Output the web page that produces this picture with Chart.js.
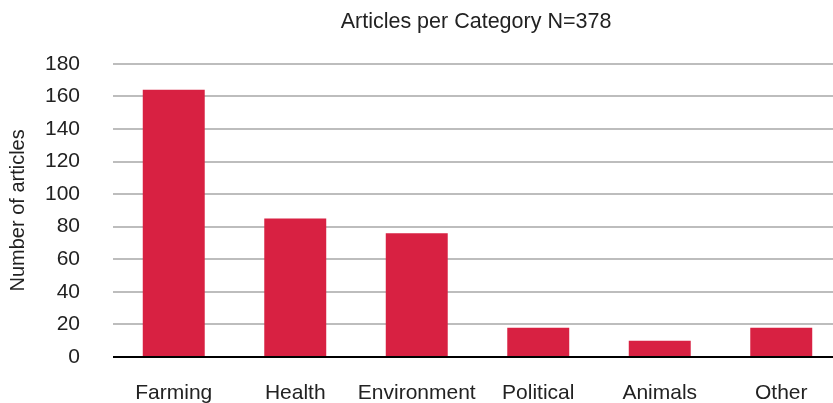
<!DOCTYPE html>
<html>
<head>
<meta charset="utf-8">
<script src="https://cdn.jsdelivr.net/npm/chart.js@4/dist/chart.umd.min.js"></script>
<style>
  html, body { margin: 0; padding: 0; background: #fff; overflow: hidden; }
  #wrap { width: 952px; height: 403px; }
</style>
</head>
<body>
<div id="wrap"><canvas id="articles"></canvas></div>
<script>
const categories = ['Farming', 'Health', 'Environment', 'Political', 'Animals', 'Other']
const articleCounts = [164, 85, 76, 18, 10, 18]
const yTicks = [0, 20, 40, 60, 80, 100, 120, 140, 160, 180]

const font = 'Liberation Sans, Arial, Helvetica, sans-serif'

new Chart(document.getElementById('articles'), {
  type: 'bar',
  data: {
    labels: categories,
    datasets: [{
      data: articleCounts,
      backgroundColor: '#D82142',
      barPercentage: 0.51,
      categoryPercentage: 1
    }]
  },
  options: {
    responsive: true,
    maintainAspectRatio: false,
    animation: false,
    layout: { padding: 0 },
    plugins: {
      legend: { display: false },
      tooltip: { enabled: false },
      title: {
        display: true,
        text: 'Articles per Category N=378',
        color: '#222',
        font: { family: font, size: 21.5, weight: 'normal' },
        padding: { top: 9, bottom: 29 }
      }
    },
    scales: {
      x: {
        grid: { display: false, drawTicks: false },
        border: { display: false },
        ticks: {
          color: '#222',
          padding: 24,
          autoSkip: false,
          maxRotation: 0,
          minRotation: 0,
          font: { family: font, size: 21 }
        },
        afterFit: (scale) => { scale.height = 46 }
      },
      y: {
        min: 0,
        max: 180,
        afterBuildTicks: (scale) => { scale.ticks = yTicks.map(v => ({ value: v })) },
        grid: {
          drawTicks: false,
          lineWidth: 2,
          color: (ctx) => ctx.tick && ctx.tick.value === 0 ? '#000' : '#bdbdbd'
        },
        border: { display: false },
        ticks: {
          color: '#222',
          padding: 33,
          font: { family: font, size: 21 }
        },
        title: {
          display: true,
          text: 'Number of articles',
          color: '#222',
          font: { family: font, size: 20 },
          padding: { top: 6, bottom: 0 }
        },
        afterFit: (scale) => { scale.width = 113 }
      },
      // empty right-hand axis: the plot runs past the picture's right edge
      spacer: {
        position: 'right',
        grid: { display: false, drawTicks: false },
        border: { display: false },
        ticks: { display: false },
        afterFit: (scale) => { scale.width = 110 }
      }
    }
  }
})
</script>
</body>
</html>
